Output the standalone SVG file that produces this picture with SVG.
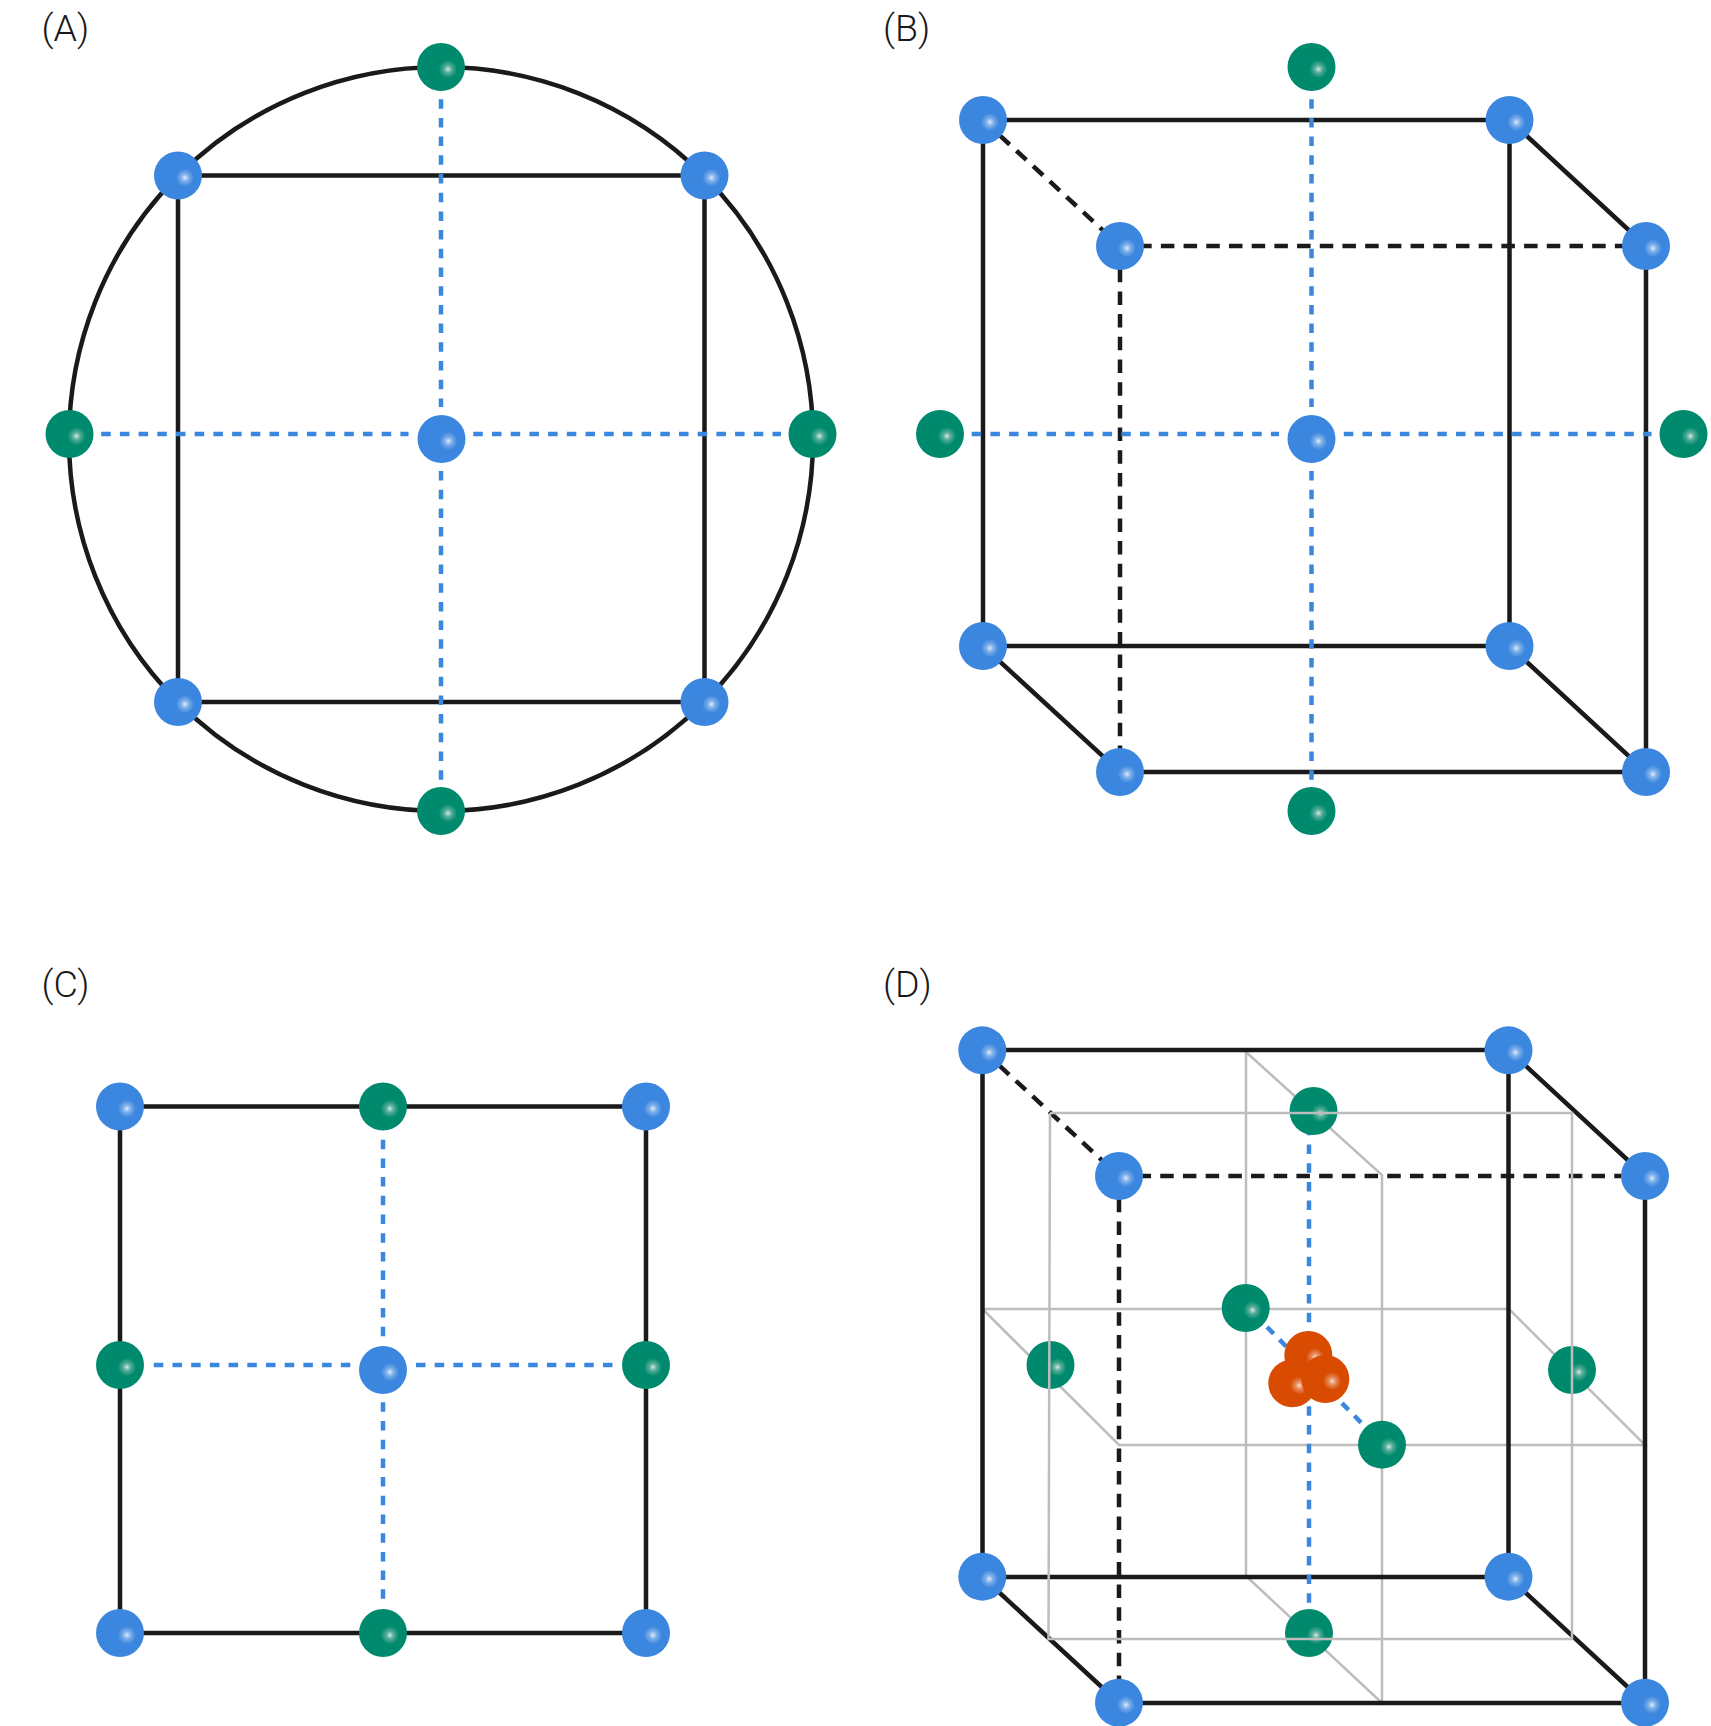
<svg xmlns="http://www.w3.org/2000/svg" width="1711" height="1726" viewBox="0 0 1711 1726">
<style>
.b{fill:none;stroke:#1a1a1a;stroke-width:4.500}
.k{fill:none;stroke:#1a1a1a;stroke-width:4.500;stroke-dasharray:13.500 9.200}
.d{fill:none;stroke:#3b86de;stroke-width:4.500;stroke-dasharray:9.500 9.200}
.g{fill:none;stroke:#bdbdbd;stroke-width:2.500}
.t{font-family:"Roboto","Liberation Sans",sans-serif;font-size:37.500px;font-weight:350;fill:#1a1a1a}
.bl{fill:url(#gb)}.gr{fill:url(#gg)}.or{fill:url(#go)}
circle[class]{r:24px}
</style>
<defs>
<radialGradient id="gb" cx="0.645" cy="0.545" r="0.19"><stop offset="0" stop-color="#e8f1fb"/><stop offset="0.15" stop-color="#b8d2f3"/><stop offset="0.45" stop-color="#78ace9"/><stop offset="1" stop-color="#3b86de"/></radialGradient>
<radialGradient id="gg" cx="0.645" cy="0.545" r="0.19"><stop offset="0" stop-color="#e0f0ec"/><stop offset="0.15" stop-color="#a0d0c5"/><stop offset="0.45" stop-color="#4faa95"/><stop offset="1" stop-color="#008a6d"/></radialGradient>
<radialGradient id="go" cx="0.645" cy="0.545" r="0.19"><stop offset="0" stop-color="#fbe6da"/><stop offset="0.15" stop-color="#f0b99b"/><stop offset="0.45" stop-color="#e58552"/><stop offset="1" stop-color="#d84b00"/></radialGradient>
</defs>
<rect width="1711" height="1726" fill="#fff"/>
<g id="labels">
<text class="t" x="41.500" y="40.500">(A)</text>
<text class="t" x="883" y="40.500">(B)</text>
<text class="t" x="41.500" y="996.500">(C)</text>
<text class="t" x="883" y="996.500">(D)</text>
</g>
<g id="connectors">
<circle class="b" style="r:372px" cx="441" cy="439" r="372"/>
<path class="b" d="M178 175.500H704.500V702H178Z"/>
<path class="d" d="M441 99.200V407M441 471V781M101.200 434H408.500M473.300 434H781"/>
<path class="b" d="M983 646V120H1509.500V646ZM983 646L1120 772H1646V246L1509.500 120M1509.500 646L1646 772"/>
<path class="k" d="M983 120L1120 246H1646M1120 246V772"/>
<path class="d" d="M1311.500 99.200V407M1311.500 471V781M971.700 434H1279M1343.800 434H1651.500"/>
<path class="b" d="M120 1106.500H646V1633H120Z"/>
<path class="d" d="M383 1139.700V1337M383 1402.300V1599M153.800 1365H350.300M416 1365H612.500"/>
<path class="g" d="M982.500 1309H1509L1645 1445H1119L982.500 1309"/>
<path class="g" d="M1246 1052V1576L1382 1703V1175L1246 1052"/>
<path class="b" d="M982.500 1577V1050H1508.500V1577ZM982.500 1577L1119 1703H1645V1176L1508.500 1050M1508.500 1577L1645 1703"/>
<path class="k" d="M982.500 1050L1119 1176H1645M1119 1176V1703"/>
<path class="d" d="M1309 1125.800V1603"/>
<path class="d" style="stroke-dasharray:9.500 8.300" d="M1267 1327L1361.500 1423"/>
</g>
<g id="a-t"><circle class="gr" cx="441" cy="67" r="24"/></g>
<g id="a-b"><circle class="gr" cx="441" cy="811" r="24"/></g>
<g id="a-l"><circle class="gr" cx="69.500" cy="434" r="24"/></g>
<g id="a-r"><circle class="gr" cx="812.500" cy="434" r="24"/></g>
<g id="a-c"><circle class="bl" cx="441.500" cy="439" r="24"/></g>
<g id="a-1"><circle class="bl" cx="178" cy="175.500" r="24"/></g>
<g id="a-2"><circle class="bl" cx="704.500" cy="175.500" r="24"/></g>
<g id="a-3"><circle class="bl" cx="178" cy="702" r="24"/></g>
<g id="a-4"><circle class="bl" cx="704.500" cy="702" r="24"/></g>
<g id="b-t"><circle class="gr" cx="1311.500" cy="67" r="24"/></g>
<g id="b-b"><circle class="gr" cx="1311.500" cy="811" r="24"/></g>
<g id="b-l"><circle class="gr" cx="940" cy="434" r="24"/></g>
<g id="b-r"><circle class="gr" cx="1683.500" cy="434" r="24"/></g>
<g id="b-c"><circle class="bl" cx="1311.500" cy="439" r="24"/></g>
<g id="b-1"><circle class="bl" cx="983" cy="120" r="24"/></g>
<g id="b-2"><circle class="bl" cx="1509.500" cy="120" r="24"/></g>
<g id="b-3"><circle class="bl" cx="983" cy="646" r="24"/></g>
<g id="b-4"><circle class="bl" cx="1509.500" cy="646" r="24"/></g>
<g id="b-5"><circle class="bl" cx="1120" cy="246" r="24"/></g>
<g id="b-6"><circle class="bl" cx="1646" cy="246" r="24"/></g>
<g id="b-7"><circle class="bl" cx="1120" cy="772" r="24"/></g>
<g id="b-8"><circle class="bl" cx="1646" cy="772" r="24"/></g>
<g id="c-t"><circle class="gr" cx="383" cy="1106.500" r="24"/></g>
<g id="c-b"><circle class="gr" cx="383" cy="1633" r="24"/></g>
<g id="c-l"><circle class="gr" cx="120" cy="1365" r="24"/></g>
<g id="c-r"><circle class="gr" cx="646" cy="1365" r="24"/></g>
<g id="c-c"><circle class="bl" cx="383" cy="1370" r="24"/></g>
<g id="c-1"><circle class="bl" cx="120" cy="1106.500" r="24"/></g>
<g id="c-2"><circle class="bl" cx="646" cy="1106.500" r="24"/></g>
<g id="c-3"><circle class="bl" cx="120" cy="1633" r="24"/></g>
<g id="c-4"><circle class="bl" cx="646" cy="1633" r="24"/></g>
<g id="d-t"><circle class="gr" cx="1313.500" cy="1111" r="24"/></g>
<g id="d-b"><circle class="gr" cx="1309" cy="1633" r="24"/></g>
<g id="d-l"><circle class="gr" cx="1050.500" cy="1365" r="24"/></g>
<g id="d-r"><circle class="gr" cx="1572" cy="1370" r="24"/></g>
<g id="d-k"><circle class="gr" cx="1245.700" cy="1308" r="24"/></g>
<g id="d-f"><circle class="gr" cx="1382" cy="1444.700" r="24"/></g>
<g id="d-o1"><circle class="or" cx="1292.300" cy="1383.300" r="24"/></g>
<g id="d-o2"><circle class="or" cx="1308.300" cy="1355" r="24"/></g>
<g id="d-o3"><circle class="or" cx="1325.300" cy="1379" r="24"/></g>
<g id="d-1"><circle class="bl" cx="982.300" cy="1050.300" r="24"/></g>
<g id="d-2"><circle class="bl" cx="1508.500" cy="1050.300" r="24"/></g>
<g id="d-3"><circle class="bl" cx="982.300" cy="1576.700" r="24"/></g>
<g id="d-4"><circle class="bl" cx="1508.500" cy="1576.700" r="24"/></g>
<g id="d-5"><circle class="bl" cx="1119" cy="1176" r="24"/></g>
<g id="d-6"><circle class="bl" cx="1645" cy="1176" r="24"/></g>
<g id="d-7"><circle class="bl" cx="1119" cy="1702.700" r="24"/></g>
<g id="d-8"><circle class="bl" cx="1645" cy="1702.700" r="24"/></g>
<g id="connectors-over">
<path class="g" d="M1050 1113H1572V1639H1048.500L1050 1113"/>
</g>
</svg>
